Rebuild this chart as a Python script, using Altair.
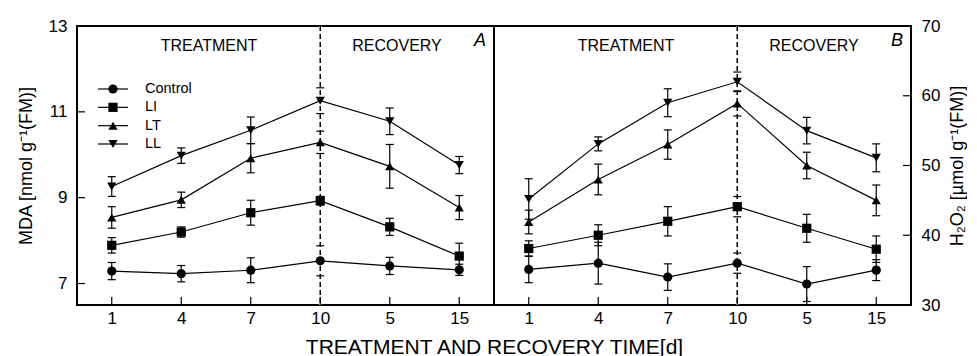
import altair as alt
import pandas as pd

# Sampling days: four treatment days followed by two recovery days
treatment_days = ["1", "4", "7", "10"]
recovery_days = ["5", "15"]
days = treatment_days + recovery_days

groups = ["Control", "LI", "LT", "LL"]
group_shapes = ["circle", "square", "triangle-up", "triangle-down"]

# MDA content [nmol g-1 (FM)], means and error half-widths
mda_control = [7.29, 7.23, 7.31, 7.53, 7.41, 7.32]
mda_control_err = [0.20, 0.19, 0.29, 0.35, 0.20, 0.13]
mda_li = [7.89, 8.20, 8.65, 8.93, 8.32, 7.64]
mda_li_err = [0.18, 0.12, 0.29, 0.10, 0.20, 0.30]
mda_lt = [8.54, 8.95, 9.92, 10.29, 9.73, 8.77]
mda_lt_err = [0.25, 0.18, 0.34, 0.26, 0.51, 0.28]
mda_ll = [9.26, 9.98, 10.57, 11.26, 10.78, 9.76]
mda_ll_err = [0.23, 0.18, 0.31, 0.30, 0.31, 0.20]

# H2O2 content [umol g-1 (FM)], means and error half-widths
h2o2_control = [35.1, 36.0, 34.0, 36.0, 33.0, 35.0]
h2o2_control_err = [1.9, 3.0, 1.9, 1.45, 2.5, 1.5]
h2o2_li = [38.1, 40.0, 42.0, 44.1, 41.0, 38.0]
h2o2_li_err = [1.1, 1.5, 2.1, 1.45, 2.0, 1.9]
h2o2_lt = [41.9, 48.0, 53.0, 58.9, 50.0, 45.0]
h2o2_lt_err = [1.7, 2.2, 2.1, 1.8, 1.9, 2.2]
h2o2_ll = [45.2, 53.1, 59.0, 62.0, 55.0, 51.1]
h2o2_ll_err = [2.9, 1.0, 2.0, 1.4, 1.9, 2.0]

mda_ticks = [7, 9, 11, 13]
h2o2_ticks = [30, 40, 50, 60, 70]

W, H = 417, 279
TICK_LEN = 8
FONT = "Liberation Sans, Arial, sans-serif"
INK = "#000000"


def long_frame(series, errors):
    rows = []
    for g, vals, errs in zip(groups, series, errors):
        for d, v, e in zip(days, vals, errs):
            rows.append({"group": g, "day": d, "value": v, "lo": v - e, "hi": v + e})
    return pd.DataFrame(rows)


def panel(df, y_domain, y_ticks, y_title, side, letter, x_title=None, legend=False):
    x_axis = alt.Axis(
        labelAngle=0, labelFontSize=17, labelFont=FONT, labelColor=INK, labelPadding=5,
        ticks=False, domain=False, grid=False,
        titleFont=FONT, titleFontSize=21, titleFontWeight="normal", titleColor=INK,
        titleX=W, titleY=42, titleAlign="center", titleBaseline="middle",
    )
    x = alt.X("day:O", sort=days, title=x_title,
              scale=alt.Scale(type="point", domain=days, padding=0.5), axis=x_axis)

    y_axis = alt.Axis(
        orient=side, values=y_ticks, ticks=False, domain=False, grid=False,
        labelFontSize=17, labelFont=FONT, labelColor=INK, labelPadding=10,
        titleFont=FONT, titleFontSize=18, titleFontWeight="normal", titleColor=INK,
        titleAngle=270, titleAlign="center", titleBaseline="middle",
        titleX=(-51 if side == "left" else 46), titleY=H / 2,
    )
    y_scale = alt.Scale(domain=y_domain, nice=False, zero=False)

    def yq(field):
        return alt.Y(f"{field}:Q", scale=y_scale, axis=y_axis, title=y_title)

    shape = alt.Shape("group:N", scale=alt.Scale(domain=groups, range=group_shapes), legend=None)
    base = alt.Chart(df)

    stems = base.mark_rule(color=INK, strokeWidth=1.2).encode(x=x, y=yq("lo"), y2="hi:Q")
    caps = base.transform_fold(["lo", "hi"], as_=["end", "cap"]).mark_tick(
        color=INK, thickness=1.2, size=8, opacity=1
    ).encode(x=x, y=yq("cap"))

    boundary = pd.DataFrame({"day": [treatment_days[-1]]})
    gap = alt.Chart(boundary).mark_rule(color="white", strokeWidth=2.5).encode(x=x)
    divider = alt.Chart(boundary).mark_rule(color=INK, strokeWidth=1.5, strokeDash=[5, 3]).encode(x=x)

    lines = base.mark_line(color=INK, strokeWidth=1.2).encode(x=x, y=yq("value"), detail="group:N")
    points = base.mark_point(filled=True, color=INK, opacity=1, size=85).encode(
        x=x, y=yq("value"), shape=shape
    )

    # inward-pointing tick marks along the bottom and the value axis
    x_ticks = alt.Chart(pd.DataFrame({"day": days})).mark_rule(color=INK, strokeWidth=1.2).encode(
        x=x, y=alt.value(H - TICK_LEN), y2=alt.value(H)
    )
    tick_x = TICK_LEN / 2 if side == "left" else W - TICK_LEN / 2
    y_tick_marks = alt.Chart(pd.DataFrame({"tick": y_ticks})).mark_tick(
        color=INK, thickness=1.2, size=TICK_LEN, orient="horizontal", opacity=1
    ).encode(y=yq("tick"), x=alt.value(tick_x))

    labels = alt.Chart(pd.DataFrame({
        "text": ["TREATMENT", "RECOVERY"], "px": [132, 320]
    })).mark_text(font=FONT, fontSize=16, color=INK, baseline="middle", align="center").encode(
        text="text:N", x=alt.X("px:Q", scale=None), y=alt.value(20)
    )
    tag = alt.Chart(pd.DataFrame({"text": [letter]})).mark_text(
        font=FONT, fontSize=18, fontStyle="italic", color=INK, baseline="middle", align="center"
    ).encode(text="text:N", x=alt.value(403), y=alt.value(15))

    data_layers = alt.layer(
        stems, gap, divider, caps, lines, points, x_ticks, y_tick_marks, labels, tag
    )

    if not legend:
        return data_layers.properties(width=W, height=H)

    key = pd.DataFrame({"group": groups, "row": list(range(len(groups)))})
    ky = alt.Y("row:O", scale=alt.Scale(type="point", domain=list(range(len(groups))),
                                          range=[63, 118], padding=0), axis=None)
    kbase = alt.Chart(key)
    k_line = kbase.mark_rule(color=INK, strokeWidth=1.2).encode(y=ky, x=alt.value(21), x2=alt.value(51))
    k_point = kbase.mark_point(filled=True, color=INK, opacity=1, size=85).encode(
        y=ky, x=alt.value(36), shape=shape
    )
    k_text = kbase.mark_text(font=FONT, fontSize=14.5, color=INK, align="left", baseline="middle").encode(
        y=ky, x=alt.value(68), text="group:N"
    )
    return alt.layer(data_layers, k_line, k_point, k_text).resolve_scale(y="independent").properties(
        width=W, height=H
    )


mda_df = long_frame([mda_control, mda_li, mda_lt, mda_ll],
                    [mda_control_err, mda_li_err, mda_lt_err, mda_ll_err])
h2o2_df = long_frame([h2o2_control, h2o2_li, h2o2_lt, h2o2_ll],
                     [h2o2_control_err, h2o2_li_err, h2o2_lt_err, h2o2_ll_err])

left = panel(mda_df, [6.5, 13], mda_ticks, "MDA [nmol g\u207b\u00b9(FM)]", "left", "A",
             x_title="TREATMENT AND RECOVERY TIME[d]", legend=True)
right = panel(h2o2_df, [30, 70], h2o2_ticks, "H\u2082O\u2082 [\u00b5mol g\u207b\u00b9(FM)]", "right", "B")

chart = alt.hconcat(left, right, spacing=0, bounds="flush").properties(
    autosize=alt.AutoSizeParams(type="pad"),
    padding={"left": 16, "top": 16, "right": 0, "bottom": 0},
    background="white",
).configure_view(stroke=INK, strokeWidth=2)

chart.save("out.html", embed_options={"renderer": "svg", "actions": False})
